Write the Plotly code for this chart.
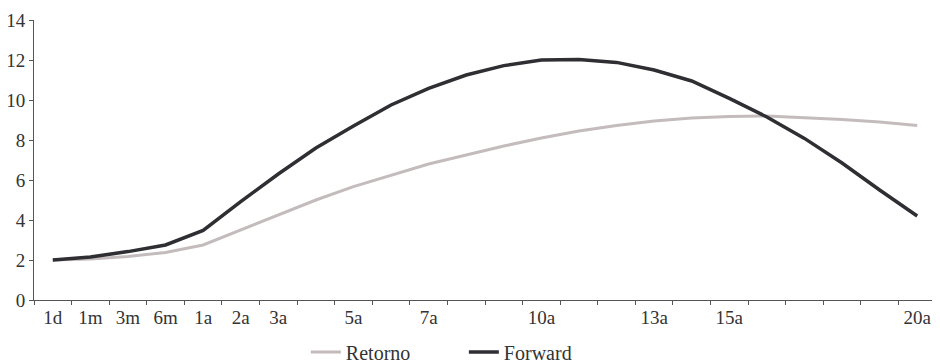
import plotly.graph_objects as go

categories = ["1d", "1m", "3m", "6m", "1a", "2a", "3a", "4a", "5a", "6a", "7a", "8a",
              "9a", "10a", "11a", "12a", "13a", "14a", "15a", "16a", "17a", "18a", "19a", "20a"]
shown_labels = ["1d", "1m", "3m", "6m", "1a", "2a", "3a", "5a", "7a", "10a", "13a", "15a", "20a"]

retorno = [2.0, 2.05, 2.17, 2.38, 2.75, 3.5, 4.25, 5.0, 5.67, 6.25, 6.8, 7.25,
           7.7, 8.1, 8.45, 8.72, 8.95, 9.1, 9.18, 9.2, 9.12, 9.03, 8.9, 8.73]
forward = [2.0, 2.15, 2.42, 2.75, 3.48, 4.92, 6.3, 7.6, 8.7, 9.75, 10.58, 11.25,
           11.72, 12.0, 12.02, 11.88, 11.5, 10.95, 10.08, 9.15, 8.08, 6.85, 5.5, 4.2]

y_ticks = [0, 2, 4, 6, 8, 10, 12, 14]

FONT = "Liberation Serif, Times New Roman, serif"
TXT = "#333333"
AXIS = "#555555"

fig = go.Figure()
fig.add_trace(go.Scatter(x=categories, y=retorno, mode="lines", name="Retorno",
                         line=dict(color="#c4bcbc", width=3)))
fig.add_trace(go.Scatter(x=categories, y=forward, mode="lines", name="Forward",
                         line=dict(color="#2e2e33", width=3.5)))

fig.update_layout(
    width=932, height=352,
    margin=dict(l=26, r=4, t=12, b=60, autoexpand=False),
    paper_bgcolor="white", plot_bgcolor="white",
    font=dict(family=FONT, size=19, color=TXT),
    showlegend=True,
    legend=dict(orientation="h", x=0.3014, xanchor="left", y=-0.116, yanchor="top",
                entrywidth=113, font=dict(family=FONT, size=20, color=TXT),
                bgcolor="rgba(0,0,0,0)", tracegroupgap=0),
)
fig.update_xaxes(
    type="category", categoryorder="array", categoryarray=categories,
    range=[-0.5, len(categories) - 0.5],
    tickmode="array", tickvals=categories,
    ticktext=[c if c in shown_labels else "" for c in categories],
    tickson="boundaries", ticks="outside", ticklen=4, tickcolor=AXIS,
    showline=True, linecolor=AXIS, linewidth=1,
    showgrid=False, zeroline=False, automargin=False,
    tickfont=dict(family=FONT, size=19, color=TXT),
)
fig.update_yaxes(
    range=[0, 14], tickmode="array", tickvals=y_ticks,
    ticks="outside", ticklen=4, tickcolor=AXIS,
    showline=True, linecolor=AXIS, linewidth=1,
    showgrid=False, zeroline=False, automargin=False,
    ticklabelstandoff=0,
    tickfont=dict(family=FONT, size=19, color=TXT),
)

fig.write_html("out.html")
